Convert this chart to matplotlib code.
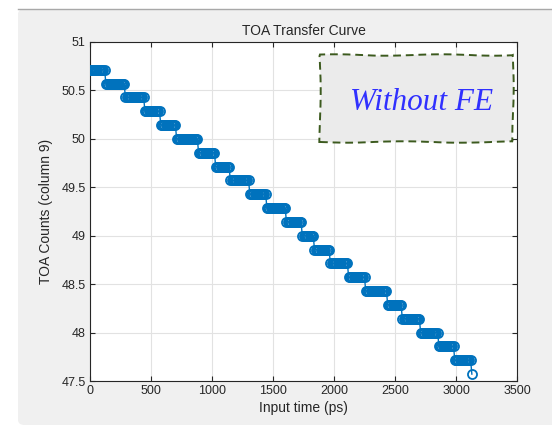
import numpy as np
import matplotlib
matplotlib.use("Agg")
import matplotlib.pyplot as plt
from matplotlib.patches import Rectangle, FancyBboxPatch
from matplotlib.lines import Line2D

# TOA code levels (counts) and the input time where each level starts (ps)
levels = [50.714, 50.571, 50.429, 50.286, 50.143, 50.0, 49.857, 49.714,
          49.571, 49.429, 49.286, 49.143, 49.0, 48.857, 48.714, 48.571,
          48.429, 48.286, 48.143, 48.0, 47.857, 47.714, 47.571]
step_start = [0, 130, 290, 450, 575, 710, 885, 1030, 1150, 1310, 1450, 1605,
              1740, 1835, 1965, 2115, 2255, 2440, 2555, 2705, 2855, 2990, 3130]
sweep_step = 10      # input time scan step (ps)
last_time = 3130

xticks = [0, 500, 1000, 1500, 2000, 2500, 3000, 3500]
yticks = [47.5, 48, 48.5, 49, 49.5, 50, 50.5, 51]

# build the sweep
t = np.arange(0, last_time + 1, sweep_step)
idx = np.searchsorted(step_start, t, side="right") - 1
toa = np.array(levels)[idx]

plt.rcParams["font.family"] = ["Liberation Sans", "DejaVu Sans"]

fig = plt.figure(figsize=(5.52, 4.34), dpi=100, facecolor="white")

# MATLAB-like gray figure panel
panel = FancyBboxPatch((18 / 552, 9 / 434), 1.2, (425 - 9) / 434,
                       boxstyle="round,pad=0,rounding_size=0.012",
                       transform=fig.transFigure, facecolor="#f0f0f0",
                       edgecolor="none", zorder=-2)
fig.add_artist(panel)
fig.add_artist(Line2D([18 / 552, 1], [1 - 9 / 434, 1 - 9 / 434],
                      transform=fig.transFigure, color="#a8a8a8", lw=1,
                      zorder=-1))

ax = fig.add_axes([90 / 552, 1 - 381 / 434, 427 / 552, 339 / 434])
ax.set_zorder(1)
ax.set_facecolor("white")

ax.plot(t, toa, "-o", color="#0072BD", markersize=6.5, markerfacecolor="none",
        markeredgewidth=1.3, linewidth=1.0, zorder=3)

ax.set_xlim(0, 3500)
ax.set_ylim(47.5, 51)
ax.set_xticks(xticks)
ax.set_yticks(yticks)
ax.set_xticklabels([str(v) for v in xticks])
ax.set_yticklabels(["47.5", "48", "48.5", "49", "49.5", "50", "50.5", "51"])
ax.tick_params(direction="in", length=3.5, width=0.8, colors="#262626",
               labelsize=9, top=True, right=True, pad=3)
ax.grid(True, color="#e2e2e2", linewidth=0.8)
ax.set_axisbelow(True)
for s in ax.spines.values():
    s.set_color("#262626")
    s.set_linewidth(0.8)

ax.set_title("TOA Transfer Curve", fontsize=10, color="#262626", pad=5)
ax.set_xlabel("Input time (ps)", fontsize=10, color="#262626", labelpad=3)
ax.set_ylabel("TOA Counts (column 9)", fontsize=10, color="#262626", labelpad=6)

# annotation box
box = Rectangle((230 / 427, 1 - (142 - 42) / 339), (513 - 320) / 427,
                (142 - 55) / 339, transform=ax.transAxes, facecolor="#ebebeb",
                edgecolor="#3c5a1e", linestyle=(0, (4, 2.5)), linewidth=1.4,
                zorder=4)
box.set_sketch_params(scale=0.7, length=120, randomness=2)
ax.add_patch(box)
ax.text((422 - 90) / 427, 1 - (102 - 42) / 339, "Without FE",
        transform=ax.transAxes, ha="center", va="center",
        fontsize=22.5, fontstyle="italic", color="#3030ff",
        family=["Liberation Serif", "DejaVu Serif"], zorder=5)

fig.savefig("out.png", dpi=100, facecolor="white")
